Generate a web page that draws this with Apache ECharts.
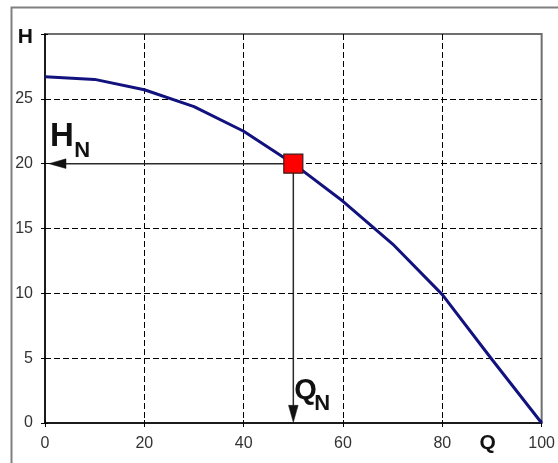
<!DOCTYPE html>
<html>
<head>
<meta charset="utf-8">
<script src="https://cdn.jsdelivr.net/npm/echarts@6/dist/echarts.min.js"></script>
<style>
html,body{margin:0;padding:0;background:#fff;}
#chart{width:558px;height:463px;}
</style>
</head>
<body>
<div id="chart"></div>
<script>
// ---- data ----
const flowQ = [0, 10, 20, 30, 40, 50, 60, 70, 80, 90, 100];
const headH = [26.7, 26.5, 25.7, 24.4, 22.5, 20.0, 17.1, 13.8, 9.9, 4.9, 0];
const dutyPoint = [50, 20];           // [Q_N, H_N]
const xTickValues = [0, 20, 40, 60, 80, 100];
const yTickValues = [0, 5, 10, 15, 20, 25, 30];
const xAxisTitle = 'Q';
const yAxisTitle = 'H';

const FONT = '"Liberation Sans", Arial, Helvetica, sans-serif';
const xMin = xTickValues[0], xMax = xTickValues[xTickValues.length - 1];
const xStep = xTickValues[1] - xTickValues[0];
const yMin = yTickValues[0], yMax = yTickValues[yTickValues.length - 1];
const yStep = yTickValues[1] - yTickValues[0];

const curve = flowQ.map((q, i) => [q, headH[i]]);

const chart = echarts.init(document.getElementById('chart'), null, {renderer: 'canvas'});

function arrowItem(params, api) {
  const p1 = api.coord([api.value(0), api.value(1)]);
  const p2 = api.coord([api.value(2), api.value(3)]);
  const dx = p2[0] - p1[0], dy = p2[1] - p1[1];
  const len = Math.sqrt(dx * dx + dy * dy) || 1;
  const ux = dx / len, uy = dy / len;
  const nx = -uy, ny = ux;
  const hl = 17, hw = 4.8;
  const bx = p2[0] - ux * hl, by = p2[1] - uy * hl;
  return {
    type: 'group',
    children: [
      {type: 'line', shape: {x1: p1[0], y1: p1[1], x2: bx, y2: by},
        style: {stroke: '#2a2a2a', lineWidth: 1.5}},
      {type: 'polygon', shape: {points: [[p2[0], p2[1]], [bx + nx * hw, by + ny * hw], [bx - nx * hw, by - ny * hw]]},
        style: {fill: '#111', stroke: '#111', lineWidth: 0.5}}
    ]
  };
}

function textItem(params, api) {
  const p = api.coord([api.value(0), api.value(1)]);
  const d = annotations[params.dataIndex];
  return {
    type: 'text', x: p[0], y: p[1],
    style: {text: d.text, font: 'bold ' + d.size + 'px ' + FONT, fill: '#111', align: 'left', verticalAlign: 'middle'}
  };
}

const annotations = [
  {text: 'H', value: [1.0, 22.1], size: 33},
  {text: 'N', value: [5.9, 21.0], size: 22},
  {text: 'Q', value: [50.2, 2.45], size: 29},
  {text: 'N', value: [54.2, 1.5], size: 22}
];

const baseX = {
  type: 'value', min: xMin, max: xMax, interval: xStep, position: 'bottom',
};
const baseY = {
  type: 'value', min: yMin, max: yMax, interval: yStep, position: 'left',
};

const option = {
  animation: false,
  backgroundColor: '#fff',
  graphic: [{
    type: 'rect', left: 9, top: 5, z: -10,
    shape: {width: 620, height: 520},
    style: {fill: 'none', stroke: '#808080', lineWidth: 2}
  }],
  grid: {left: 45, right: 15, top: 34, bottom: 40, show: true,
    borderColor: '#6e6e6e', borderWidth: 2, backgroundColor: 'transparent'},
  xAxis: [
    Object.assign({}, baseX, {
      name: xAxisTitle, nameLocation: 'end', nameGap: -54,
      nameTextStyle: {fontFamily: FONT, fontSize: 21, fontWeight: 'bold', color: '#111',
        align: 'center', verticalAlign: 'top', padding: [10, 0, 0, 0]},
      axisLine: {show: true, onZero: false, lineStyle: {color: '#000', width: 1.5}},
      axisTick: {show: true, inside: false, length: 4, lineStyle: {color: '#000', width: 1}},
      axisLabel: {fontFamily: FONT, fontSize: 16, color: '#333', margin: 13},
      splitLine: {show: true, showMinLine: false, showMaxLine: false,
        lineStyle: {color: '#000', width: 1, type: [6, 3]}}
    }),
    Object.assign({}, baseX, {
      axisLine: {show: false}, axisLabel: {show: false}, splitLine: {show: false},
      axisTick: {show: true, inside: true, length: 3, lineStyle: {color: '#000', width: 1}}
    })
  ],
  yAxis: [
    Object.assign({}, baseY, {
      axisLine: {show: true, onZero: false, lineStyle: {color: '#000', width: 1.5}},
      axisTick: {show: true, inside: false, length: 4, lineStyle: {color: '#000', width: 1}},
      axisLabel: {fontFamily: FONT, fontSize: 16, color: '#333', margin: 12,
        formatter: v => v === yMax ? '{h|' + yAxisTitle + '}' : String(v),
        rich: {h: {fontFamily: FONT, fontSize: 21, fontWeight: 'bold', color: '#111', padding: [6, 0, 0, 0]}}},
      splitLine: {show: true, showMinLine: false, showMaxLine: false,
        lineStyle: {color: '#000', width: 1, type: [6, 3]}}
    }),
    Object.assign({}, baseY, {
      axisLine: {show: false}, axisLabel: {show: false}, splitLine: {show: false},
      axisTick: {show: true, inside: true, length: 3, lineStyle: {color: '#000', width: 1}}
    })
  ],
  series: [
    {
      type: 'custom', name: 'arrows', xAxisIndex: 0, yAxisIndex: 0, z: 3,
      renderItem: arrowItem,
      data: [[dutyPoint[0], dutyPoint[1], 0.8, dutyPoint[1]], [dutyPoint[0], dutyPoint[1], dutyPoint[0], 0.05]]
    },
    {
      type: 'line', name: 'H(Q)', xAxisIndex: 0, yAxisIndex: 0, z: 4,
      data: curve, showSymbol: false, symbol: 'none', smooth: false,
      lineStyle: {color: '#12127e', width: 3}
    },
    {
      type: 'scatter', name: 'duty', xAxisIndex: 0, yAxisIndex: 0, z: 6,
      data: [dutyPoint], symbol: 'rect', symbolSize: 19,
      itemStyle: {color: '#ff0000', opacity: 1, borderColor: '#3a1a1a', borderWidth: 1.2}
    },
    {
      type: 'custom', name: 'labels', xAxisIndex: 0, yAxisIndex: 0, z: 7,
      renderItem: textItem,
      data: annotations.map(a => a.value)
    }
  ]
};
chart.setOption(option);
</script>
</body>
</html>
